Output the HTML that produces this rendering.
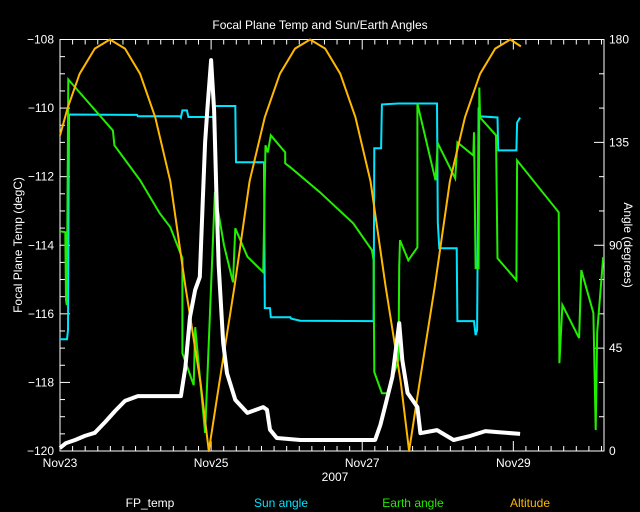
<!DOCTYPE html>
<html><head><meta charset="utf-8"><style>
html,body{margin:0;padding:0;background:#000;}
svg{display:block;}
text{font-family:"Liberation Sans",sans-serif;font-size:12px;fill:#fff;}
</style></head><body>
<svg id="chart" width="640" height="512" viewBox="0 0 640 512">
<rect x="0" y="0" width="640" height="512" fill="#000"/>
<text x="320" y="29" text-anchor="middle">Focal Plane Temp and Sun/Earth Angles</text>
<text x="335" y="481" text-anchor="middle">2007</text>
<text transform="translate(22,245) rotate(-90)" text-anchor="middle" font-size="11">Focal Plane Temp (degC)</text>
<text transform="translate(624,245) rotate(90)" text-anchor="middle" font-size="11">Angle (degrees)</text>
<text x="150" y="507" text-anchor="middle" fill="#fff">FP_temp</text>
<text x="281" y="507" text-anchor="middle" style="fill:#00e5ff">Sun angle</text>
<text x="413" y="507" text-anchor="middle" style="fill:#22ee00">Earth angle</text>
<text x="530" y="507" text-anchor="middle" style="fill:#ffb800">Altitude</text>
<g id="axes"></g>
<g id="series"></g>
</svg>
<script>
const xTickLabels = ["Nov23","Nov25","Nov27","Nov29"];
const xTickDays = [0,2,4,6];
const leftTicks = [-120,-118,-116,-114,-112,-110,-108];
const rightTicks = [0,45,90,135,180];

const tempDays = [0,.08,.20,.33,.46,.60,.73,.86,1.03,1.19,1.60,1.66,1.72,1.79,1.85,1.89,1.92,1.95,2.0,2.04,2.07,2.10,2.16,2.21,2.32,2.48,2.69,2.74,2.78,2.87,3.18,4.17,4.24,4.30,4.40,4.49,4.53,4.60,4.73,4.77,4.99,5.21,5.43,5.63,5.79,6.09];
const tempVals = [-119.91,-119.77,-119.68,-119.56,-119.47,-119.15,-118.83,-118.54,-118.40,-118.40,-118.40,-117.55,-116.09,-115.30,-114.93,-112.68,-111.0,-110.06,-108.60,-110.06,-112.5,-114.6,-116.85,-117.73,-118.51,-118.89,-118.72,-118.80,-119.38,-119.62,-119.68,-119.68,-119.24,-118.72,-117.84,-116.27,-117.35,-118.31,-118.72,-119.48,-119.39,-119.68,-119.56,-119.42,-119.45,-119.50];

const sunDays = [0,.093,.106,.119,1.02,1.03,1.59,1.60,1.62,1.68,1.70,2.04,2.05,2.32,2.33,2.70,2.71,2.78,2.79,3.05,3.06,3.18,4.15,4.16,4.25,4.26,4.48,4.99,5.00,5.02,5.25,5.26,5.48,5.50,5.52,5.54,5.55,5.79,5.80,6.04,6.05,6.09];
const sunVals = [48.9,48.9,52.9,147.2,147.0,146.4,146.4,145.9,149.0,149.0,146.1,146.1,150.9,150.9,126.3,126.3,62.5,62.5,58.5,58.5,57.9,57.0,56.8,132.4,132.4,151.6,152.0,152.0,100,88.7,88.7,56.8,56.8,50.7,52.9,150.3,146.4,145.9,131.5,131.5,143.7,145.9];

const earthDays = [0,.07,.08,.09,.11,.70,.72,1.06,1.32,1.46,1.62,1.62,1.77,1.79,1.92,2.05,2.17,2.29,2.32,2.48,2.69,2.72,2.75,2.79,2.98,2.98,3.05,3.44,3.88,4.13,4.15,4.16,4.26,4.33,4.48,4.49,4.50,4.61,4.73,4.73,4.97,5.0,5.23,5.26,5.47,5.48,5.50,5.54,5.55,5.56,5.77,5.79,6.04,6.05,6.60,6.61,6.65,6.87,6.90,7.06,7.09,7.11,7.19];
const earthVals = [96.1,95.7,66.0,63.8,162.5,140.2,133.7,118.4,104.0,97.9,84.3,42.8,28.8,54.2,7.9,113.2,90,73.8,97.4,85,78.2,133.7,130.6,138.1,130.6,125.8,124.1,113.2,99.6,87.8,83.4,34.5,25.3,25.3,39.8,80.4,92.2,83.4,89.1,152.0,118.4,134.6,119.3,135.0,129.3,139.4,80,80,159,145.9,138.1,84.3,74.7,127.1,104.4,38.4,63.8,49.4,79.1,60.3,9.2,52.0,84.8];

const altDays = [0,.1,.26,.46,.66,.86,1.06,1.26,1.46,1.66,1.86,1.97,2.11,2.31,2.51,2.71,2.91,3.11,3.31,3.51,3.71,3.91,4.11,4.31,4.51,4.62,4.76,4.96,5.16,5.36,5.56,5.76,5.96,6.1];
const altVals = [138,150,165,176,180,176,165,146,118,72,30,0,30,72,118,146,165,176,180,176,165,146,118,72,30,0,30,72,118,146,165,176,180,177];

const X0=60, X1=604, Y0=39.5, Y1=451, DAYS=7.2;
const xs = d => X0 + d*(X1-X0)/DAYS;
const yT = t => Y1 - (t+120)/12*(Y1-Y0);
const yA = a => Y1 - a/180*(Y1-Y0);
const NS="http://www.w3.org/2000/svg";
const axes=document.getElementById('axes'), series=document.getElementById('series');
function mk(tag,parent,attrs){const e=document.createElementNS(NS,tag);for(const k in attrs)e.setAttribute(k,attrs[k]);parent.appendChild(e);return e;}

const frame=mk('rect',axes,{x:X0,y:Y0,width:X1-X0,height:Y1-Y0,fill:'none',stroke:'#fff','stroke-width':1});


for(let i=0;i*(1/6)<=DAYS+1e-6;i++){
  const d=i/6, x=xs(d), major=(i%12===0), len=major?10:5;
  const t1=mk('line',axes,{x1:x,x2:x,y1:Y1,y2:Y1-len,stroke:'#fff'});
  
  
  const t2=mk('line',axes,{x1:x,x2:x,y1:Y0,y2:Y0+len,stroke:'#fff'});
  
  
}
xTickLabels.forEach((l,i)=>{
  const t=mk('text',axes,{x:xs(xTickDays[i]),y:467,'text-anchor':'middle'});t.textContent=l;
  
  
});
for(let v=-120;v<=-108+1e-6;v+=0.5){
  const y=yT(v), major=(Math.abs(v-Math.round(v))<1e-6 && Math.round(v)%2===0), len=major?10:5;
  const t=mk('line',axes,{x1:X0,x2:X0+len,y1:y,y2:y,stroke:'#fff'});
  
  
}
leftTicks.forEach(v=>{
  const t=mk('text',axes,{x:54,y:yT(v)+4,'text-anchor':'end'});t.textContent='\u2212'+Math.abs(v);
  
  
});
for(let v=0;v<=180;v+=15){
  const y=yA(v), len=(v%45===0)?10:5;
  const t=mk('line',axes,{x1:X1,x2:X1-len,y1:y,y2:y,stroke:'#fff'});
  
  
}
rightTicks.forEach(v=>{
  const t=mk('text',axes,{x:609,y:yA(v)+4,'text-anchor':'start'});t.textContent=v;
  
  
});

function line(days,vals,yf){
  return days.map((d,i)=>xs(d).toFixed(1)+','+yf(vals[i]).toFixed(1)).join(' ');
}
const sun=mk('polyline',series,{points:line(sunDays,sunVals,yA),fill:'none',stroke:'#00e5ff','stroke-width':2});


const earth=mk('polyline',series,{points:line(earthDays,earthVals,yA),fill:'none',stroke:'#22ee00','stroke-width':2});


const alt=mk('polyline',series,{points:line(altDays,altVals,yA),fill:'none',stroke:'#ffb800','stroke-width':2,'stroke-linejoin':'round'});


const temp=mk('polyline',series,{points:line(tempDays,tempVals,yT),fill:'none',stroke:'#fff','stroke-width':4,'stroke-linejoin':'round'});


</script>
</body></html>
